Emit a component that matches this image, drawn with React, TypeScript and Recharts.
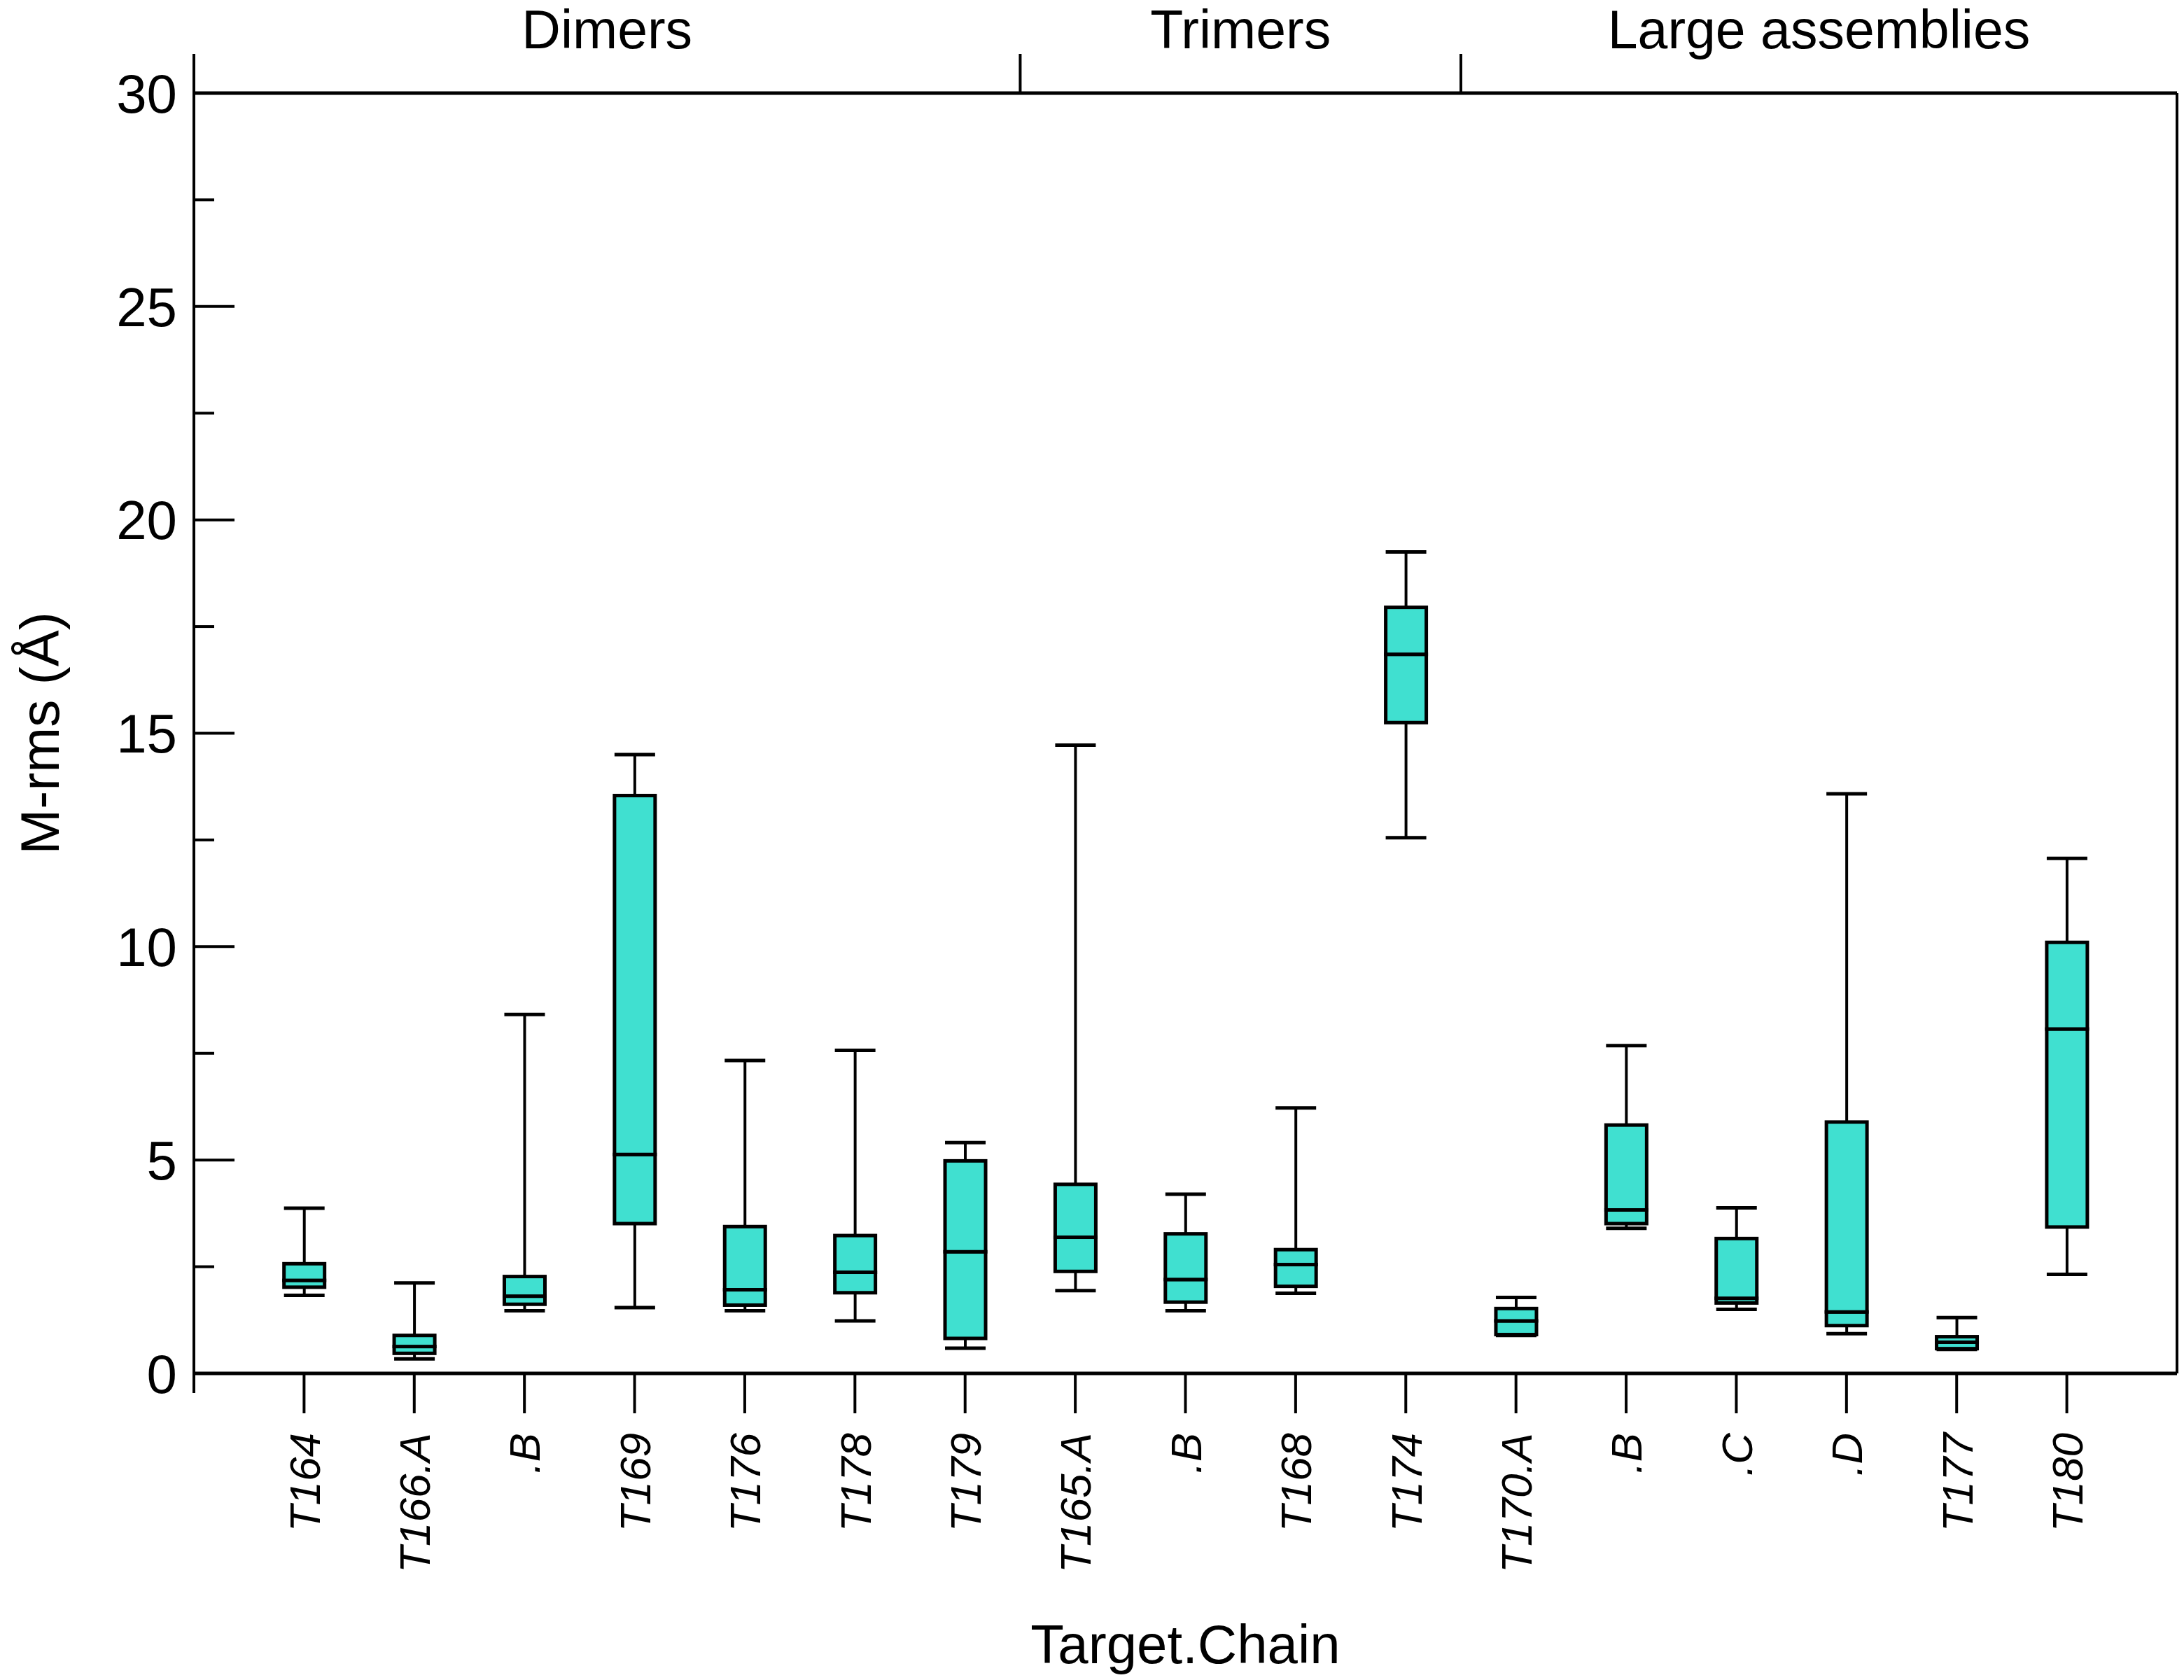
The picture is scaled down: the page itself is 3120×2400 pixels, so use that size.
import React from 'react';
import { ComposedChart, Bar, XAxis, YAxis } from 'recharts';

const categories = ['T164', 'T166.A', '.B', 'T169', 'T176', 'T178', 'T179', 'T165.A', '.B', 'T168', 'T174', 'T170.A', '.B', '.C', '.D', 'T177', 'T180'];
const mins = [1.83, 0.34, 1.47, 1.54, 1.47, 1.23, 0.59, 1.94, 1.47, 1.88, 12.55, 0.89, 3.4, 1.5, 0.93, 0.56, 2.32];
const q1s = [2.02, 0.47, 1.62, 3.51, 1.6, 1.89, 0.82, 2.39, 1.67, 2.04, 15.25, 0.91, 3.51, 1.65, 1.12, 0.58, 3.43];
const medians = [2.18, 0.63, 1.81, 5.13, 1.96, 2.37, 2.85, 3.19, 2.2, 2.55, 16.85, 1.23, 3.83, 1.76, 1.44, 0.73, 8.07];
const q3s = [2.57, 0.89, 2.27, 13.54, 3.44, 3.23, 4.98, 4.43, 3.27, 2.9, 17.95, 1.52, 5.82, 3.16, 5.89, 0.86, 10.1];
const maxs = [3.87, 2.12, 8.41, 14.5, 7.33, 7.57, 5.41, 14.72, 4.2, 6.22, 19.25, 1.78, 7.68, 3.88, 13.58, 1.31, 12.07];

const groupNames = ['Dimers', 'Trimers', 'Large assemblies'];
const groupSizes = [7, 4, 6];

const yTicks = [0, 2.5, 5, 7.5, 10, 12.5, 15, 17.5, 20, 22.5, 25, 27.5, 30];
const majorYTicks = [0, 5, 10, 15, 20, 25, 30];

const FONT = '"Liberation Sans", Arial, Helvetica, sans-serif';
const BOX_FILL = '#40E0D0';

const WIDTH = 3120;
const HEIGHT = 2400;
const LEFT = 277;
const RIGHT = 10;
// one empty slot on each side of the categories: padding is half a band
const PAD = (WIDTH - LEFT - RIGHT) / ((categories.length + 1) * 2);

const data = categories.map((name, i) => ({
  idx: i,
  name,
  base: mins[i],
  lowWhisker: q1s[i] - mins[i],
  lowBox: medians[i] - q1s[i],
  highBox: q3s[i] - medians[i],
  highWhisker: maxs[i] - q3s[i],
}));

const groupStarts: number[] = [];
groupSizes.reduce((acc, s) => {
  groupStarts.push(acc);
  return acc + s;
}, 0);

const LowWhisker = (props: any) => {
  const { x, y, width, height } = props;
  const cx = x + width / 2;
  return (
    <g>
      <line x1={cx} x2={cx} y1={y} y2={y + height} stroke="#000" strokeWidth={4} />
      <line x1={x} x2={x + width} y1={y + height} y2={y + height} stroke="#000" strokeWidth={5} />
    </g>
  );
};

const HighWhisker = (props: any) => {
  const { x, y, width, height } = props;
  const cx = x + width / 2;
  return (
    <g>
      <line x1={cx} x2={cx} y1={y} y2={y + height} stroke="#000" strokeWidth={4} />
      <line x1={x} x2={x + width} y1={y} y2={y} stroke="#000" strokeWidth={5} />
    </g>
  );
};

const BoxPart = (props: any) => {
  const { x, y, width, height } = props;
  return <rect x={x} y={y} width={width} height={height} fill={BOX_FILL} stroke="#000" strokeWidth={5} />;
};

const LeftTick = (props: any) => {
  const { x, y, payload } = props;
  const ax = x + 24;
  const major = majorYTicks.includes(payload.value);
  return (
    <g>
      <line x1={ax} x2={ax + (major ? 58 : 29)} y1={y} y2={y} stroke="#000" strokeWidth={4} />
      {payload.value === 0 && <line x1={ax} x2={ax} y1={y} y2={y + 28} stroke="#000" strokeWidth={4} />}
      {major && (
        <text x={x} y={y} dy="0.355em" textAnchor="end" fontSize={78} fontFamily={FONT} fill="#000">
          {payload.value}
        </text>
      )}
    </g>
  );
};

const RightTick = (props: any) => {
  const { x, y, payload } = props;
  const major = majorYTicks.includes(payload.value);
  return (
    <g>
      <line x1={x} x2={x - (major ? 58 : 29)} y1={y} y2={y} stroke="#000" strokeWidth={4} />
      {payload.value === 0 && <line x1={x} x2={x} y1={y} y2={y + 28} stroke="#000" strokeWidth={4} />}
    </g>
  );
};

const BottomTick = (props: any) => {
  const { x, y, payload } = props;
  return (
    <text
      x={x}
      y={y}
      dy="0.36em"
      textAnchor="end"
      transform={`rotate(-90, ${x}, ${y})`}
      fontSize={62}
      fontStyle="italic"
      fontFamily={FONT}
      fill="#000"
    >
      {categories[payload.value]}
    </text>
  );
};

// top axis: at the first category of each group, draw the group's left divider and its centred name
const TopTick = (props: any) => {
  const { x, y, payload } = props;
  const g = groupStarts.indexOf(payload.value);
  if (g < 0) return <g />;
  const last = groupSizes.length - 1;
  const leftEdge = x - PAD * (g === 0 ? 2 : 1);
  const rightEdge = x + (groupSizes[g] - 1) * 2 * PAD + PAD * (g === last ? 2 : 1);
  return (
    <g>
      <line x1={leftEdge} x2={leftEdge} y1={y} y2={y - 56} stroke="#000" strokeWidth={4} />
      <text x={(leftEdge + rightEdge) / 2} y={y - 64} textAnchor="middle" fontSize={77} fontFamily={FONT} fill="#000">
        {groupNames[g]}
      </text>
    </g>
  );
};

export default function App() {
  return (
    <div style={{ position: 'absolute', left: 0, top: 0, width: WIDTH, height: HEIGHT, background: '#fff' }}>
      <ComposedChart width={WIDTH} height={HEIGHT} data={data} margin={{ top: 0, right: 0, bottom: 0, left: 0 }}>
        <XAxis
          dataKey="idx"
          type="category"
          interval={0}
          height={438}
          padding={{ left: PAD, right: PAD }}
          tickSize={57}
          tickMargin={28}
          tickLine={{ stroke: '#000', strokeWidth: 4 }}
          axisLine={{ stroke: '#000', strokeWidth: 5 }}
          tick={<BottomTick />}
          label={{ value: 'Target.Chain', position: 'insideBottom', offset: 24, fontSize: 78, fontFamily: FONT, fill: '#000' }}
        />
        <XAxis
          xAxisId="top"
          orientation="top"
          dataKey="idx"
          type="category"
          interval={0}
          height={133}
          padding={{ left: PAD, right: PAD }}
          tickSize={0}
          tickMargin={0}
          tickLine={false}
          axisLine={{ stroke: '#000', strokeWidth: 5 }}
          tick={<TopTick />}
        />
        <YAxis
          yAxisId="left"
          orientation="left"
          width={LEFT}
          domain={[0, 30]}
          ticks={yTicks}
          interval={0}
          tickSize={0}
          tickMargin={24}
          tickLine={false}
          axisLine={{ stroke: '#000', strokeWidth: 4 }}
          tick={<LeftTick />}
          label={{ value: 'M-rms (Å)', angle: -90, position: 'insideLeft', offset: 56, textAnchor: 'middle', fontSize: 78, fontFamily: FONT, fill: '#000' }}
        />
        <YAxis
          yAxisId="right"
          orientation="right"
          width={RIGHT}
          domain={[0, 30]}
          ticks={yTicks}
          interval={0}
          tickSize={0}
          tickMargin={0}
          tickLine={false}
          axisLine={{ stroke: '#000', strokeWidth: 4 }}
          tick={<RightTick />}
        />
        <Bar yAxisId="left" dataKey="base" stackId="box" barSize={58} fill="transparent" isAnimationActive={false} />
        <Bar yAxisId="left" dataKey="lowWhisker" stackId="box" barSize={58} shape={<LowWhisker />} isAnimationActive={false} />
        <Bar yAxisId="left" dataKey="lowBox" stackId="box" barSize={58} shape={<BoxPart />} isAnimationActive={false} />
        <Bar yAxisId="left" dataKey="highBox" stackId="box" barSize={58} shape={<BoxPart />} isAnimationActive={false} />
        <Bar yAxisId="left" dataKey="highWhisker" stackId="box" barSize={58} shape={<HighWhisker />} isAnimationActive={false} />
      </ComposedChart>
    </div>
  );
}
